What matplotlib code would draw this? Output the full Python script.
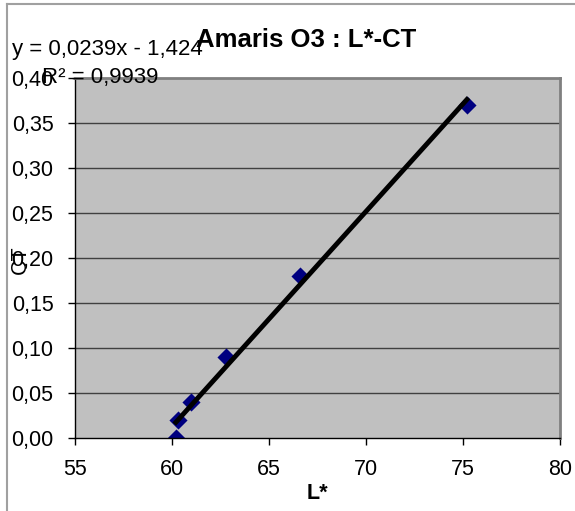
import numpy as np
import matplotlib
matplotlib.use("Agg")
import matplotlib.pyplot as plt
from matplotlib.lines import Line2D

plt.rcParams['font.family'] = ['Liberation Sans', 'DejaVu Sans']

L_star = [60.2, 60.3, 61.0, 62.8, 66.6, 75.2]
CT = [0.00, 0.02, 0.04, 0.09, 0.18, 0.37]
x_ticks = [55, 60, 65, 70, 75, 80]
y_ticks = [0.00, 0.05, 0.10, 0.15, 0.20, 0.25, 0.30, 0.35, 0.40]

fig = plt.figure(figsize=(5.75, 5.11), dpi=100)
ax = fig.add_axes([75/575, 1-438/511, (560-75)/575, (438-78)/511])
ax.set_facecolor('#C0C0C0')

# fig border (left + top)
fig.add_artist(Line2D([7/575, 7/575], [0, 1-4/511], color='#A0A0A0', lw=1.5, transform=fig.transFigure))
fig.add_artist(Line2D([7/575, 1], [1-4/511, 1-4/511], color='#A0A0A0', lw=1.5, transform=fig.transFigure))

for y in y_ticks[1:-1]:
    ax.axhline(y, color='#404040', lw=1, zorder=1)

# linear trend from data
k, b = np.polyfit(L_star, CT, 1)
xs = np.array([min(L_star), max(L_star)])
ax.plot(xs, k*xs + b, color='black', lw=3.5, zorder=3)
ax.scatter(L_star, CT, marker='D', s=85, color='#000080', zorder=2, linewidths=0)

ax.set_xlim(55, 80)
ax.set_ylim(0, 0.40)
ax.set_xticks(x_ticks)
ax.set_yticks(y_ticks)
ax.set_xticklabels([str(v) for v in x_ticks], fontsize=15.5)
ax.set_yticklabels([f"{v:.2f}".replace('.', ',') for v in y_ticks], fontsize=15.5)
ax.tick_params(direction='out', length=5, width=1)
ax.tick_params(axis='y', pad=10.5)
ax.tick_params(axis='x', pad=10)

for s in ['top', 'right']:
    ax.spines[s].set_color('#808080')
    ax.spines[s].set_linewidth(2)
for s in ['left', 'bottom']:
    ax.spines[s].set_color('black')
    ax.spines[s].set_linewidth(1)

fig.text(306/575, 1-40/511, 'Amaris O3 : L*-CT', fontsize=18.5, fontweight='bold', ha='center', va='center')
fig.text(12/575, 1-49/511, 'y = 0,0239x - 1,424', fontsize=16, ha='left', va='center')
fig.text(42/575, 1-78/511, 'R² = 0,9939', fontsize=16, ha='left', va='center')
fig.text(317/575, 1-493/511, 'L*', fontsize=15.5, fontweight='bold', ha='center', va='center')
fig.text(20/575, 1-260/511, 'CT', fontsize=15.5, ha='center', va='center', rotation=90)

fig.savefig('out.png', dpi=100)
